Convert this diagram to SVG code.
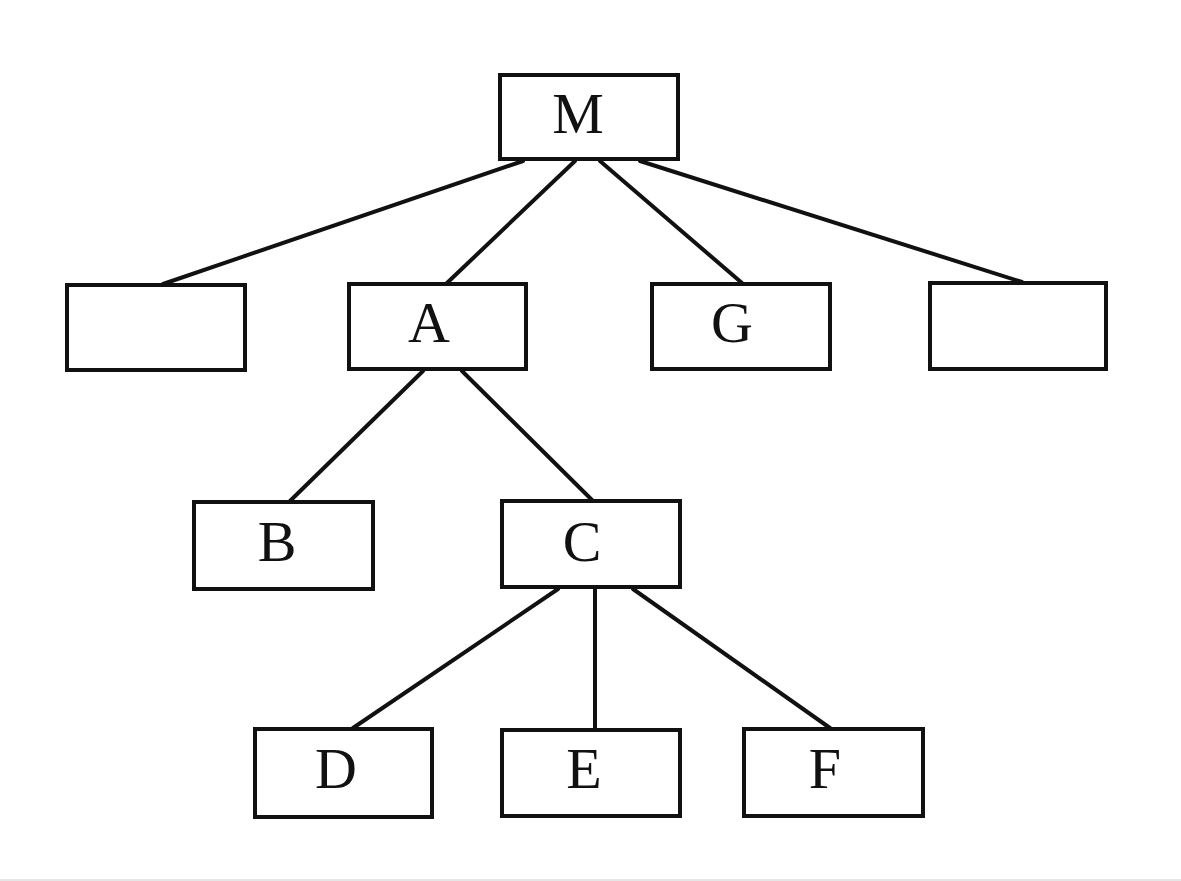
<svg xmlns="http://www.w3.org/2000/svg" width="1181" height="881" viewBox="0 0 1181 881">
  <style>
    .box { fill: #ffffff; stroke: #111111; stroke-width: 4; }
    .edge { stroke: #111111; stroke-width: 4; fill: none; stroke-linecap: round; }
    .lbl { font-family: "Liberation Serif", "Times New Roman", serif; font-size: 58px; fill: #111111; text-anchor: middle; }
  </style>
  <rect width="1181" height="881" fill="#ffffff"/>
  <rect x="0" y="879" width="1181" height="2" fill="#e6e6e6"/>

  <!-- connectors -->
  <g id="connectors">
    <line class="edge" x1="523" y1="161" x2="163" y2="284"/>
    <line class="edge" x1="575" y1="161" x2="447" y2="283"/>
    <line class="edge" x1="600" y1="161" x2="742" y2="283"/>
    <line class="edge" x1="640" y1="161" x2="1022" y2="282"/>
    <line class="edge" x1="423" y1="371" x2="290" y2="501"/>
    <line class="edge" x1="462" y1="371" x2="592" y2="500"/>
    <line class="edge" x1="558" y1="589" x2="353" y2="728"/>
    <line class="edge" x1="595" y1="589" x2="595" y2="729"/>
    <line class="edge" x1="633" y1="589" x2="830" y2="728"/>
  </g>

  <g id="node-M">
    <rect class="box" x="500" y="75" width="178" height="84"/>
    <text class="lbl" x="578" y="133">M</text>
  </g>
  <g id="node-blank-left">
    <rect class="box" x="67" y="285" width="178" height="85"/>
  </g>
  <g id="node-A">
    <rect class="box" x="349" y="284" width="177" height="85"/>
    <text class="lbl" x="429" y="342">A</text>
  </g>
  <g id="node-G">
    <rect class="box" x="652" y="284" width="178" height="85"/>
    <text class="lbl" x="732" y="342">G</text>
  </g>
  <g id="node-blank-right">
    <rect class="box" x="930" y="283" width="176" height="86"/>
  </g>
  <g id="node-B">
    <rect class="box" x="194" y="502" width="179" height="87"/>
    <text class="lbl" x="277" y="561">B</text>
  </g>
  <g id="node-C">
    <rect class="box" x="502" y="501" width="178" height="86"/>
    <text class="lbl" x="582" y="561">C</text>
  </g>
  <g id="node-D">
    <rect class="box" x="255" y="729" width="177" height="88"/>
    <text class="lbl" x="336" y="788">D</text>
  </g>
  <g id="node-E">
    <rect class="box" x="502" y="730" width="178" height="86"/>
    <text class="lbl" x="584" y="788">E</text>
  </g>
  <g id="node-F">
    <rect class="box" x="744" y="729" width="179" height="87"/>
    <text class="lbl" x="825" y="788">F</text>
  </g>
</svg>
